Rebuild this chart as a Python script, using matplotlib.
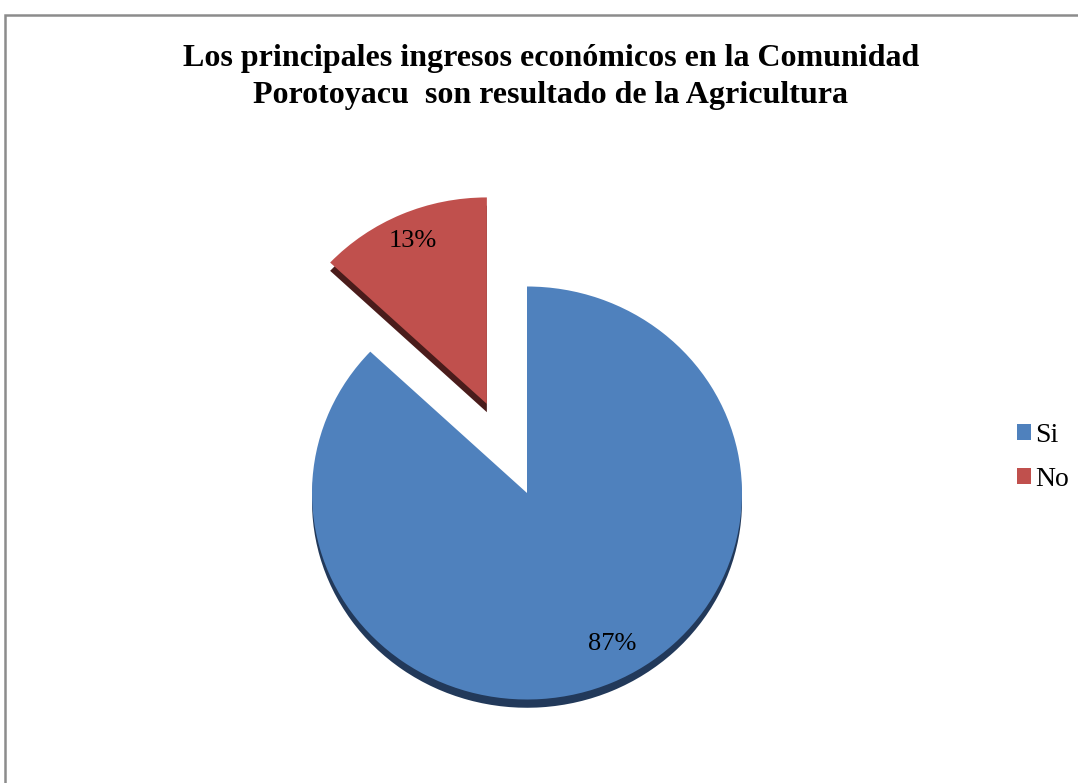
import matplotlib.pyplot as plt
from matplotlib.patches import Rectangle

# --- DATOS ---
categorias = ["Si", "No"]
porcentajes = [87, 13]
colores = ["#4F81BD", "#C0504D"]
colores_lado = ["#22395A", "#4A1C1B"]  # borde "3D" más oscuro
separacion = [0, 0.47]  # la porción "No" va separada

plt.rcParams['font.family'] = ['Liberation Serif', 'DejaVu Serif']

fig = plt.figure(figsize=(10.78, 7.83), dpi=100)
ax = fig.add_axes([0, 0, 1, 1])

# sombra/espesor de la torta (copia más oscura corrida hacia abajo)
ax.pie(porcentajes, explode=separacion, colors=colores_lado, startangle=90,
       counterclock=False, center=(0, -0.04), wedgeprops=dict(zorder=1))

# torta principal
wedges, _ = ax.pie(porcentajes, explode=separacion, colors=colores, startangle=90,
                   counterclock=False, wedgeprops=dict(zorder=2))

# etiquetas de porcentaje
ax.text(0.395, -0.73, f"{porcentajes[0]}%", ha='center', va='center', fontsize=19, zorder=3)
ax.text(-0.53, 1.22, f"{porcentajes[1]}%", ha='center', va='center', fontsize=19, zorder=3)

# escala: 1 unidad = 215 px en x, 206.5 px en y (torta un poco achatada)
ax.set_aspect('auto')
ax.set_xlim(-527 / 215, (1078 - 527) / 215)
ax.set_ylim(-290 / 206.5, (783 - 290) / 206.5)
ax.axis('off')

fig.text(0.511, 0.902, "Los principales ingresos económicos en la Comunidad\nPorotoyacu  son resultado de la Agricultura",
         ha='center', va='center', fontsize=23, fontweight='bold', linespacing=1.35)

ax.legend(wedges, categorias, loc='center left', bbox_to_anchor=(0.92, 0.416),
          frameon=False, fontsize=20, handlelength=0.5, handleheight=0.5,
          handletextpad=0.15, labelspacing=0.7)

# marco gris del gráfico (se corta en los bordes derecho e inferior)
fig.patches.append(Rectangle((5 / 1078, -0.05), 1.1, 1 - 15 / 783 + 0.05,
                             transform=fig.transFigure, fill=False,
                             edgecolor='#8C8C8C', linewidth=1.8))

fig.savefig("out.png", dpi=100)
